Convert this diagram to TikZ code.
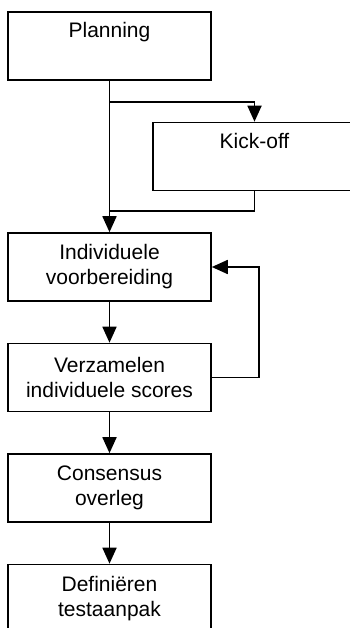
\documentclass[tikz,border=0pt]{standalone}
\usepackage{fontspec}
\setmainfont{Liberation Sans}
\usetikzlibrary{arrows.meta}
\tikzstyle{stap}=[draw, line width=1.6pt, minimum width=203pt, minimum height=68pt, inner xsep=4pt, inner ysep=10pt, align=center, font=\fontsize{21pt}{25pt}\selectfont]
\tikzstyle{eenregel}=[text height=16pt, text depth=32pt]
\tikzstyle{lijn}=[line width=1.8pt]
\tikzstyle{pijl}=[line width=1.8pt, -{Triangle[width=14pt,length=16pt]}]

\begin{document}
\begin{tikzpicture}[x=1pt, y=-1pt]
\clip (0, 0) rectangle (350, 628);
\node[stap, eenregel] at (109.5, 46) (plan) {Planning};
\node[stap, eenregel] at (254.5, 156.5) (kick) {Kick-off};
\node[stap] at (109.5, 267) (indiv) {Individuele\\voorbereiding};
\node[stap] at (109.5, 377.5) (verz) {Verzamelen\\individuele scores};
\node[stap] at (109.5, 488) (cons) {Consensus\\overleg};
\node[stap] at (109.5, 598.5) (def) {Definiëren\\testaanpak};
\coordinate (splits) at (109.5, 102);
\coordinate (samen) at (109.5, 211);
\coordinate (terug) at (259, 377.5);
\draw[pijl] (plan) -- (indiv);
\draw[pijl] (splits) -| (kick);
\draw[lijn] (kick) |- (samen);
\draw[pijl] (indiv) -- (verz);
\draw[pijl] (verz) -- (terug) |- (indiv);
\draw[pijl] (verz) -- (cons);
\draw[pijl] (cons) -- (def);
\end{tikzpicture}
\end{document}
